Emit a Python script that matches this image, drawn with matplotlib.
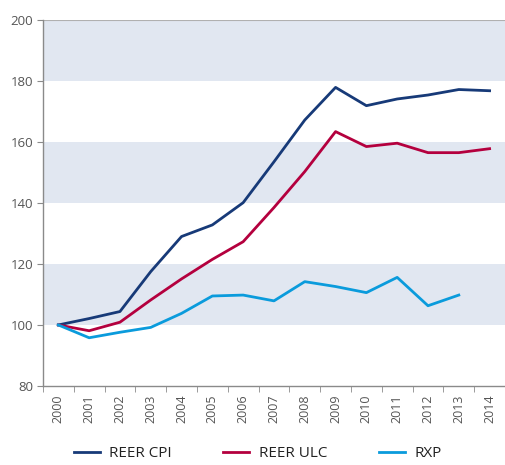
import numpy as np
import matplotlib
matplotlib.use("Agg")
import matplotlib.pyplot as plt
from matplotlib.ticker import FixedLocator

years = [str(y) for y in range(2000, 2015)]
reer_cpi = [100, 102.1, 104.4, 117.5, 129.0, 132.8, 140.1, 153.5, 167.2,
            177.9, 171.9, 174.1, 175.4, 177.2, 176.8]
reer_ulc = [100, 98.1, 100.9, 108.2, 115.1, 121.5, 127.3, 138.5, 150.3,
            163.4, 158.5, 159.6, 156.5, 156.5, 157.8]
rxp = [100, 95.8, 97.6, 99.2, 103.8, 109.5, 109.8, 107.9, 114.2,
       112.6, 110.6, 115.6, 106.3, 109.8, np.nan]

BAND = "#e1e7f1"
AXC = "#8a8a8a"
TXT = "#555555"

plt.rcParams['font.family'] = ['Open Sans', 'DejaVu Sans']

fig = plt.figure(figsize=(5.05, 4.65), dpi=100)
ax = fig.add_axes([0.085, 0.170, 0.915, 0.787])

x = np.arange(len(years))
for lo in (100, 140, 180):
    ax.axhspan(lo, lo + 20, color=BAND, lw=0, zorder=0)
ax.axhline(200, color="#b0b0b0", lw=0.8, zorder=1)

ax.plot(x, reer_cpi, color="#173a78", lw=2, label="REER CPI", zorder=3)
ax.plot(x, reer_ulc, color="#b4003e", lw=2, label="REER ULC", zorder=3)
ax.plot(x, rxp, color="#0a9bdc", lw=2, label="RXP", zorder=3)

ax.set_xlim(-0.5, len(years) - 0.5)
ax.set_ylim(80, 200)
ax.set_yticks(range(80, 201, 20))
ax.set_xticks(x)
ax.set_xticklabels(years, rotation=90)
ax.xaxis.set_minor_locator(FixedLocator(np.arange(-0.5, len(years), 1)))
ax.tick_params(axis="x", which="major", length=0, pad=6, labelsize=9,
               labelcolor=TXT)
ax.tick_params(axis="x", which="minor", length=4, color=AXC, direction="out")
ax.tick_params(axis="y", length=4, color=AXC, labelsize=9.5, labelcolor=TXT,
               pad=3)

for s in ("top", "right"):
    ax.spines[s].set_visible(False)
for s in ("left", "bottom"):
    ax.spines[s].set_color(AXC)
    ax.spines[s].set_linewidth(1)

fig.legend(loc="lower center", bbox_to_anchor=(0.51, -0.022), ncol=3,
           frameon=False, fontsize=11, handlelength=1.7, handletextpad=0.6,
           columnspacing=3.4, labelcolor="#222222")

fig.savefig("out.png", dpi=100)
